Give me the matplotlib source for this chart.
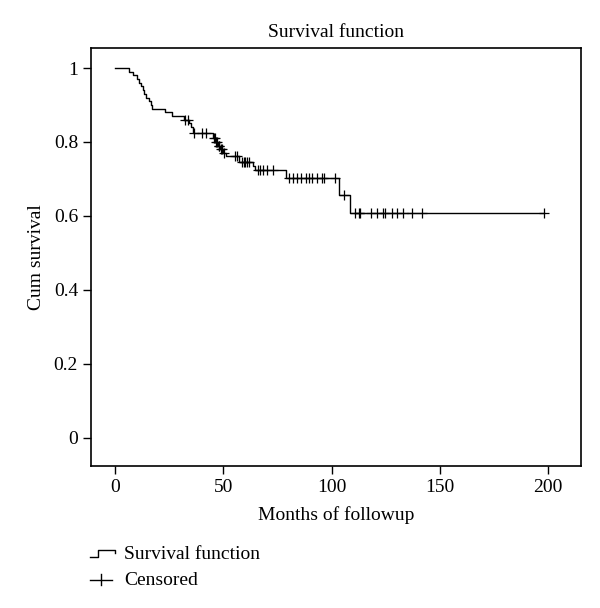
import matplotlib
matplotlib.use("Agg")
import matplotlib.pyplot as plt
from matplotlib.legend_handler import HandlerBase
from matplotlib.lines import Line2D

# Kaplan-Meier curve: step times (months) and survival after each step
step_times = [0, 6.5, 8.5, 10, 11, 12, 13, 13.5, 14.5, 15.5, 16.5, 17,
              23, 26.5, 32, 34, 35, 36,
              45, 46.5, 47.5, 48.5, 50, 51,
              57, 63.5, 64.5, 79, 103.5, 108.5]
step_surv = [1.0, 0.99, 0.98, 0.97, 0.96, 0.95, 0.94, 0.93, 0.92, 0.91, 0.90, 0.89,
             0.88, 0.87, 0.86, 0.85, 0.84, 0.824,
             0.812, 0.80, 0.79, 0.78, 0.77, 0.762,
             0.747, 0.735, 0.724, 0.702, 0.657, 0.607]
end_time = 198

# censored observations (months)
cens_times = [32.5, 33.5, 36.5, 40, 42,
              45.5, 46, 46.8, 47, 47.8, 48, 49, 49.5, 50.3,
              55.5, 56.5, 58.5, 59.5, 60, 61, 62,
              66, 67, 68.5, 70, 73,
              80.5, 82, 84, 86, 88, 89.5, 91, 93, 95.5, 96.5, 101.5,
              105.5, 111, 112.5, 113.2, 118, 121, 123.5, 124.5, 128, 130, 133, 137, 141.5, 198]

x_ticks = [0, 50, 100, 150, 200]
y_ticks = [0, 0.2, 0.4, 0.6, 0.8, 1.0]
y_ticklabels = ["0", "0.2", "0.4", "0.6", "0.8", "1"]


def surv_at(t):
    s = step_surv[0]
    for tt, ss in zip(step_times, step_surv):
        if t >= tt:
            s = ss
    return s


class StepHandler(HandlerBase):
    # little "_|‾|" glyph like the SPSS legend
    def create_artists(self, legend, orig, xd, yd, width, height, fontsize, trans):
        lo, hi = yd + height * 0.15, yd + height * 0.65
        x1, x2 = xd + width * 0.33, xd + width
        xs = [xd, x1, x1, x2, x2]
        ys = [lo, lo, hi, hi, yd + height * 0.4]
        return [Line2D(xs, ys, color="black", lw=1.0, transform=trans)]


class PlusHandler(HandlerBase):
    def create_artists(self, legend, orig, xd, yd, width, height, fontsize, trans):
        cx, cy = xd + width * 0.45, yd + height * 0.4
        h = Line2D([xd, xd + width * 0.9], [cy, cy], color="black", lw=1.0, transform=trans)
        v = Line2D([cx, cx], [yd, yd + height * 0.8], color="black", lw=1.0,
                   transform=trans)
        return [h, v]


plt.rcParams["font.family"] = ["Liberation Serif", "DejaVu Serif"]
plt.rcParams["font.size"] = 14

fig = plt.figure(figsize=(6, 6.08), dpi=100)
ax = fig.add_axes([0.152, 0.2336, 0.816, 0.6874])

xs = list(step_times) + [end_time]
ys = list(step_surv) + [step_surv[-1]]
surv_line, = ax.step(xs, ys, where="post", color="black", lw=1.0)
cens_y = [surv_at(t) for t in cens_times]
cens_pts, = ax.plot(cens_times, cens_y, ls="none", marker="+", ms=7, mew=0.9, color="black")

ax.set_xlim(-11, 215)
ax.set_ylim(-0.076, 1.054)
ax.set_xticks(x_ticks)
ax.set_yticks(y_ticks)
ax.set_yticklabels(y_ticklabels)
ax.tick_params(direction="out", length=6, width=1.0, labelsize=14)
for sp in ax.spines.values():
    sp.set_linewidth(1.2)

ax.set_title("Survival function", fontsize=14, pad=8)
ax.set_xlabel("Months of followup", fontsize=14, labelpad=7)
ax.set_ylabel("Cum survival", fontsize=14, labelpad=6)

fig.legend([surv_line, cens_pts], ["Survival function", "Censored"],
           handler_map={surv_line: StepHandler(), cens_pts: PlusHandler()},
           loc="upper left", bbox_to_anchor=(0.12, 0.132), frameon=False,
           handlelength=1.3, handletextpad=0.5, labelspacing=0.45, fontsize=14)

fig.savefig("out.png", dpi=100)
